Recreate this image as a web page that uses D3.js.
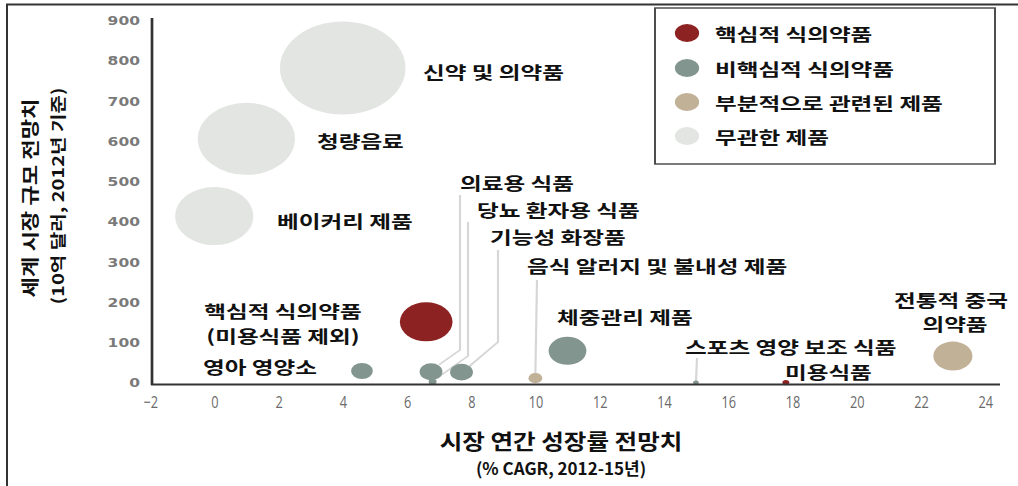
<!DOCTYPE html>
<html>
<head>
<meta charset="utf-8">
<script src="https://cdn.jsdelivr.net/npm/d3@7"></script>
<style>
  body { margin: 0; background: #fff; }
  text { font-family: "Noto Sans CJK KR", "Noto Sans", sans-serif; }
</style>
</head>
<body>
<svg id="chart"></svg>
<script>
// data
const names = ["신약 및 의약품", "청량음료", "베이커리 제품", "핵심적 식의약품", "영아 영양소",
  "의료용 식품", "당뇨 환자용 식품", "기능성 화장품", "음식 알러지 및 불내성 제품",
  "체중관리 제품", "스포츠 영양 보조 식품", "미용식품", "전통적 중국 의약품"];
const cagr = [4.0, 1.0, 0.0, 6.6, 4.6, 6.75, 6.8, 7.7, 10.0, 11.0, 15.0, 17.8, 23.0];
const marketSize = [783, 607, 415, 152, 30, 28, 3, 27, 12, 80, 1, 1, 67];
const bubbleSize = [1000, 600, 390, 176, 30, 33, 4, 33, 12, 91, 2, 3, 97];
const groups = ["unrelated", "unrelated", "unrelated", "core", "noncore", "noncore", "noncore",
  "noncore", "partial", "noncore", "noncore", "core", "partial"];

const legendKeys = ["core", "noncore", "partial", "unrelated"];
const legendLabels = ["핵심적 식의약품", "비핵심적 식의약품", "부분적으로 관련된 제품", "무관한 제품"];
const xTicks = [-2, 0, 2, 4, 6, 8, 10, 12, 14, 16, 18, 20, 22, 24];
const yTicks = [0, 100, 200, 300, 400, 500, 600, 700, 800, 900];

const width = 1018, height = 486;
const sx = 1.35; // the picture is stretched sideways

const color = d3.scaleOrdinal()
  .domain(legendKeys)
  .range(["#8d2222", "#83958f", "#c0b197", "#e3e5e2"]);

const svg = d3.select("#chart").attr("width", width).attr("height", height);

// frame
svg.append("line").attr("x1", 6).attr("x2", width).attr("y1", 4.5).attr("y2", 4.5)
  .attr("stroke", "#333").attr("stroke-width", 2);
svg.append("line").attr("x1", 7).attr("x2", 7).attr("y1", 4).attr("y2", height)
  .attr("stroke", "#333").attr("stroke-width", 2);

const g = svg.append("g").attr("transform", `scale(${sx},1)`);

const x = d3.scaleLinear().domain([-2, 24]).range([150 / sx, 985 / sx]);
const y = d3.scaleLinear().domain([0, 900]).range([383, 21]);
const r = d3.scaleSqrt().domain([0, 1000]).range([0, 46.5]);

const data = names.map((n, i) => ({
  name: n, cagr: cagr[i], size: marketSize[i], bubble: bubbleSize[i], group: groups[i]
}));

// leader lines (label -> bubble)
const leaders = [
  { i: 5, lx: 460, top: 195, bend: 350, dx: 8, dy: -7 },
  { i: 6, lx: 468, top: 222, bend: 356, dx: 5, dy: -4 },
  { i: 7, lx: 498, top: 250, bend: 342, dx: 8, dy: -6 },
  { i: 8, lx: 537, top: 280, bend: null, dx: 0, dy: -5 },
  { i: 10, lx: 697, top: 358, bend: null, dx: 0, dy: 0 }
];
leaders.forEach(l => {
  const d = data[l.i];
  const ex = x(d.cagr) + l.dx / sx, ey = y(d.size) + l.dy;
  const pts = l.bend === null
    ? [[l.lx / sx, l.top], [ex, ey]]
    : [[l.lx / sx, l.top], [l.lx / sx, l.bend], [ex, ey]];
  g.append("path")
    .attr("d", d3.line()(pts))
    .attr("fill", "none")
    .attr("stroke", "#d6d6d6")
    .attr("stroke-width", 1.6);
});

// bubbles
g.selectAll("circle.bubble")
  .data(data.slice().sort((a, b) => b.bubble - a.bubble))
  .enter()
  .append("circle")
  .attr("class", "bubble")
  .attr("cx", d => x(d.cagr))
  .attr("cy", d => y(d.size))
  .attr("r", d => r(d.bubble))
  .attr("fill", d => color(d.group));

// axes
g.append("line").attr("x1", 152 / sx).attr("x2", 152 / sx).attr("y1", 18).attr("y2", 385)
  .attr("stroke", "#333").attr("stroke-width", 2);
g.append("line").attr("x1", 151 / sx).attr("x2", 1000 / sx).attr("y1", 384.5).attr("y2", 384.5)
  .attr("stroke", "#333").attr("stroke-width", 2);

const yAxis = g.append("g")
  .attr("transform", `translate(${140 / sx},0)`)
  .call(d3.axisLeft(y).tickValues(yTicks).tickSize(0).tickPadding(0));
yAxis.select(".domain").remove();
yAxis.selectAll("text")
  .attr("fill", "#7a7a7a")
  .style("font-family", "DejaVu Sans")
  .style("font-weight", 700)
  .style("font-size", "11.5px");

const xAxis = g.append("g")
  .attr("transform", `translate(0,396)`)
  .call(d3.axisBottom(x).tickValues(xTicks).tickSize(0).tickPadding(0).tickFormat(d3.format("d")));
xAxis.select(".domain").remove();
xAxis.selectAll("text")
  .attr("fill", "#6a6a6a")
  .attr("transform", `scale(${0.75 / sx},1)`)
  .style("font-family", "Open Sans")
  .style("font-size", "17px");

// bubble labels
const labels = [
  { t: "신약 및 의약품", x: 423, y: 71 },
  { t: "청량음료", x: 317, y: 140 },
  { t: "베이커리 제품", x: 277, y: 220 },
  { t: "의료용 식품", x: 460, y: 182 },
  { t: "당뇨 환자용 식품", x: 477, y: 209 },
  { t: "기능성 화장품", x: 490, y: 236 },
  { t: "음식 알러지 및 불내성 제품", x: 527, y: 265 },
  { t: "핵심적 식의약품", x: 283, y: 310, a: "middle" },
  { t: "(미용식품 제외)", x: 283, y: 335, a: "middle" },
  { t: "영아 영양소", x: 203, y: 366 },
  { t: "체중관리 제품", x: 557, y: 316 },
  { t: "스포츠 영양 보조 식품", x: 685, y: 346 },
  { t: "미용식품", x: 785, y: 371 },
  { t: "전통적 중국", x: 951, y: 299, a: "middle" },
  { t: "의약품", x: 955, y: 323, a: "middle" }
];
g.selectAll("text.lbl")
  .data(labels)
  .enter()
  .append("text")
  .attr("class", "lbl")
  .attr("x", d => d.x / sx)
  .attr("y", d => d.y)
  .attr("text-anchor", d => d.a || "start")
  .attr("dominant-baseline", "central")
  .attr("fill", "#111")
  .style("font-size", "17.5px")
  .style("font-weight", 700)
  .text(d => d.t);

// legend
const legend = g.append("g");
legend.append("rect")
  .attr("x", 655 / sx).attr("y", 8)
  .attr("width", 340 / sx).attr("height", 156)
  .attr("fill", "#fff")
  .attr("stroke", "#444").attr("stroke-width", 1.4);

const rowY = [33, 68, 102, 136];
legendKeys.forEach((k, i) => {
  legend.append("circle")
    .attr("cx", 687 / sx).attr("cy", rowY[i]).attr("r", 9)
    .attr("fill", color(k));
  legend.append("text")
    .attr("x", 715 / sx).attr("y", rowY[i])
    .attr("dominant-baseline", "central")
    .attr("fill", "#111")
    .style("font-size", "17.5px")
    .style("font-weight", 700)
    .text(legendLabels[i]);
});

// axis titles (outside the stretched group)
svg.append("text")
  .attr("transform", "translate(29,198) rotate(-90) scale(1.17,0.95)")
  .attr("text-anchor", "middle")
  .attr("dominant-baseline", "central")
  .attr("fill", "#111")
  .style("font-size", "19px")
  .style("font-weight", 700)
  .text("세계 시장 규모 전망치");

svg.append("text")
  .attr("transform", "translate(57,196) rotate(-90) scale(1.18,0.95)")
  .attr("text-anchor", "middle")
  .attr("dominant-baseline", "central")
  .attr("fill", "#111")
  .style("font-size", "17px")
  .style("font-weight", 700)
  .text("(10억 달러, 2012년 기준)");

svg.append("text")
  .attr("transform", "translate(561,440) scale(1.17,1)")
  .attr("text-anchor", "middle")
  .attr("dominant-baseline", "central")
  .attr("fill", "#111")
  .style("font-size", "21px")
  .style("font-weight", 700)
  .text("시장 연간 성장률 전망치");

svg.append("text")
  .attr("transform", "translate(561,467)")
  .attr("text-anchor", "middle")
  .attr("dominant-baseline", "central")
  .attr("fill", "#111")
  .style("font-size", "17px")
  .style("font-weight", 700)
  .text("(% CAGR, 2012-15년)");
</script>
</body>
</html>
